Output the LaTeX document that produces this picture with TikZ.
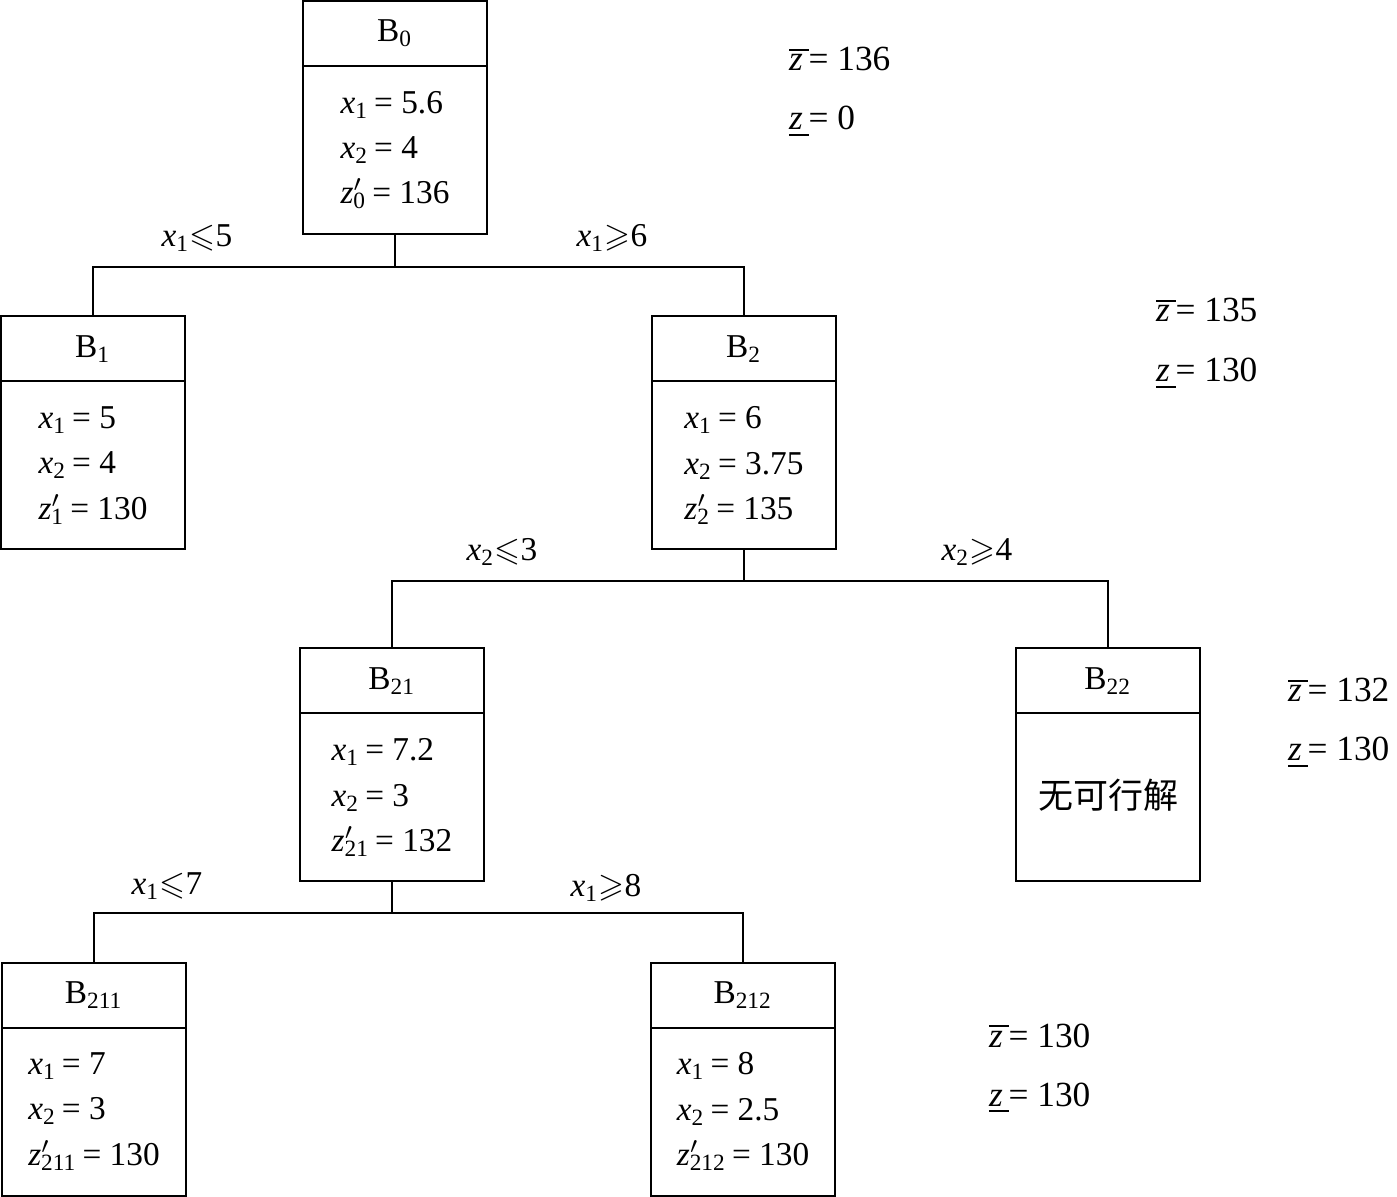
\documentclass[tikz,border=0pt]{standalone}
\usepackage{amssymb}
\usepackage{fontspec}
\setmainfont{Liberation Serif}
\newfontfamily\cjk{Noto Sans CJK SC}
\usetikzlibrary{positioning}

\newcommand{\xv}[1]{\textit{x}\textsubscript{#1}}
\newcommand{\zp}[1]{\textit{z}\rlap{$'$}\textsubscript{#1}}
\newcommand{\zup}{$\overline{\mbox{\textit{z}\,}}$}
\newcommand{\zlo}{\underline{\textit{z}\,}}

\begin{document}
\begin{tikzpicture}[
        x=0.3pt, y=-0.3pt,
        line width=0.6pt,
        head/.style={rectangle, draw, minimum width=55.2pt, minimum height=19.5pt, inner sep=0pt, outer sep=0pt},
        body/.style={rectangle, draw, minimum width=55.2pt, minimum height=50.4pt, inner sep=0pt, outer sep=0pt, align=left, font=\fontsize{10}{13.6}\selectfont},
        bound/.style={anchor=base west, inner sep=0pt, font=\fontsize{10.6}{12}\selectfont},
        cut/.style={inner sep=0pt}
    ]
        \useasboundingbox (0,0) rectangle (1397,1197);

        % B0
        \node [head] (b0h) at (395,33.5) {B\textsubscript{0}};
        \node [body, below=0pt of b0h] (b0) {\xv{1}\,= 5.6\\ \xv{2}\,= 4\\ \zp{0}\,= 136};

        % B1
        \node [head] (b1h) at (93,349) {B\textsubscript{1}};
        \node [body, below=0pt of b1h] (b1) {\xv{1}\,= 5\\ \xv{2}\,= 4\\ \zp{1}\,= 130};

        % B2
        \node [head] (b2h) at (744,349) {B\textsubscript{2}};
        \node [body, below=0pt of b2h] (b2) {\xv{1}\,= 6\\ \xv{2}\,= 3.75\\ \zp{2}\,= 135};

        % B21
        \node [head] (b21h) at (392,681) {B\textsubscript{21}};
        \node [body, below=0pt of b21h] (b21) {\xv{1}\,= 7.2\\ \xv{2}\,= 3\\ \zp{21}\,= 132};

        % B22
        \node [head] (b22h) at (1108,681) {B\textsubscript{22}};
        \node [body, below=0pt of b22h, font=\cjk\fontsize{10.5}{14}\selectfont] (b22) {\raisebox{2.4pt}{无可行解}};

        % B211
        \node [head] (b211h) at (94,995) {B\textsubscript{211}};
        \node [body, below=0pt of b211h] (b211) {\xv{1}\,= 7\\ \xv{2}\,= 3\\ \zp{211}\,= 130};

        % B212
        \node [head] (b212h) at (743,995) {B\textsubscript{212}};
        \node [body, below=0pt of b212h] (b212) {\xv{1}\,= 8\\ \xv{2}\,= 2.5\\ \zp{212}\,= 130};

        % Branches
        \draw (b0.south) -- ++(0,33) coordinate (s0);
        \draw (b1h.north) |- (s0) -| (b2h.north);
        \draw (b2.south) -- ++(0,32) coordinate (s2);
        \draw (b21h.north) |- (s2) -| (b22h.north);
        \draw (b21.south) -- ++(0,32) coordinate (s21);
        \draw (b211h.north) |- (s21) -| (b212h.north);

        % Cut labels
        \node [cut] (c1) at (197,238) {\xv{1}$\leqslant$5};
        \node [cut] (c2) at (612,238) {\xv{1}$\geqslant$6};
        \node [cut] (c3) at (502,552) {\xv{2}$\leqslant$3};
        \node [cut] (c4) at (977,552) {\xv{2}$\geqslant$4};
        \node [cut] (c5) at (167,886) {\xv{1}$\leqslant$7};
        \node [cut] (c6) at (606,888) {\xv{1}$\geqslant$8};

        % Bounds
        \node [bound] (u0) at (788,71) {\zup= 136};
        \node [bound] (l0) at (788,130) {\zlo= 0};
        \node [bound] (u2) at (1155,322) {\zup= 135};
        \node [bound] (l2) at (1155,382) {\zlo= 130};
        \node [bound] (u21) at (1287,702) {\zup= 132};
        \node [bound] (l21) at (1287,761) {\zlo= 130};
        \node [bound] (u211) at (988,1047) {\zup= 130};
        \node [bound] (l211) at (988,1106) {\zlo= 130};

    \end{tikzpicture}
\end{document}
